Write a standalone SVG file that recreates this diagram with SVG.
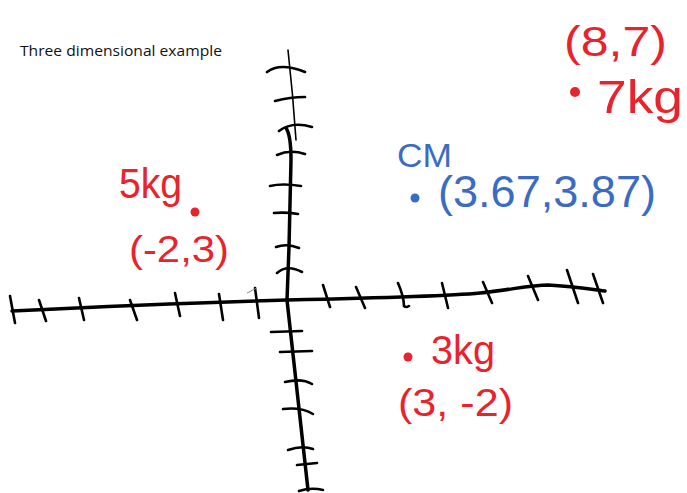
<svg xmlns="http://www.w3.org/2000/svg" width="687" height="493" viewBox="0 0 687 493">
<style>
.ax{fill:none;stroke:#000;stroke-width:3.5;stroke-linecap:round;stroke-linejoin:round}
.tk{fill:none;stroke:#000;stroke-width:2.6;stroke-linecap:round}
.r{fill:#e8232b;font-family:"Liberation Sans",Arial,sans-serif}
.b{fill:#3b6cc4;font-family:"Liberation Sans",Arial,sans-serif}
</style>
<rect width="687" height="493" fill="#fff"/>
<text x="20" y="56" font-family="Open Sans, Liberation Sans, sans-serif" font-size="15" fill="#111" textLength="202" lengthAdjust="spacingAndGlyphs">Three dimensional example</text>
<g id="axes">
<path class="ax" d="M12,311 C150,304 250,301 287,300 C380,298 450,296 480,293 C510,290 530,285 548,285 C570,286 590,289 605,291"/>
<path d="M288,50 Q293,95 296,140" fill="none" stroke="#000" stroke-width="1.6" stroke-linecap="round"/>
<path class="ax" d="M286,128 Q291,135 291,160 L289,247 L287,300 L308,490"/>
<path class="tk" d="M10,296 L15,323 M39,300 L46,321 M79,298 L84,320 M130,300 L137,320 M175,293 L180,316 M219,294 L223,320 M255,288 L259,318 M323,285 L330,307 M356,287 L365,308 M398,283 Q404,297 404,306 Q406,308 409,306 M442,283 L448,308 M483,282 L492,303 M528,276 L538,300 M567,270 L578,303 M593,274 L603,303"/>
<path d="M247,293 L257,288" fill="none" stroke="#888" stroke-width="1"/>
<path class="tk" d="M267,72 Q280,62 305,72 M275,101 Q290,97 305,97 M279,131 Q292,121 312,127 M277,155 Q290,149 305,154 M270,186 Q282,183 301,186 M274,213 Q286,212 298,214 M276,247 Q287,243 299,248 M277,273 Q287,264 302,272"/>
<path class="tk" d="M271,332 L302,331 M280,352 L312,351 M285,382 Q302,378 312,384 M283,409 Q302,407 313,414 M288,450 Q302,445 313,449 M297,465 L317,463 M299,491 Q311,487 323,490"/>
</g>
<g id="p87">
<text class="r" x="564" y="56" font-size="42" textLength="103" lengthAdjust="spacingAndGlyphs">(8,7)</text>
<circle cx="575" cy="92" r="5" fill="#e8232b"/>
<text class="r" x="597" y="113" font-size="46" textLength="86" lengthAdjust="spacingAndGlyphs">7kg</text>
</g>
<g id="cm">
<text class="b" x="397" y="167" font-size="33" textLength="55" lengthAdjust="spacingAndGlyphs">CM</text>
<circle cx="415" cy="198" r="4.5" fill="#3b6cc4"/>
<text class="b" x="438" y="207" font-size="44" textLength="218" lengthAdjust="spacingAndGlyphs">(3.67,3.87)</text>
</g>
<g id="p23">
<text class="r" x="119" y="198" font-size="42" textLength="63" lengthAdjust="spacingAndGlyphs">5kg</text>
<circle cx="195" cy="212" r="4.5" fill="#e8232b"/>
<text class="r" x="129" y="262" font-size="36" textLength="100" lengthAdjust="spacingAndGlyphs">(-2,3)</text>
</g>
<g id="p32">
<circle cx="408" cy="357" r="4.5" fill="#e8232b"/>
<text class="r" x="431" y="364" font-size="40" textLength="64" lengthAdjust="spacingAndGlyphs">3kg</text>
<text class="r" x="398" y="416" font-size="38" textLength="115" lengthAdjust="spacingAndGlyphs">(3, -2)</text>
</g>
</svg>
